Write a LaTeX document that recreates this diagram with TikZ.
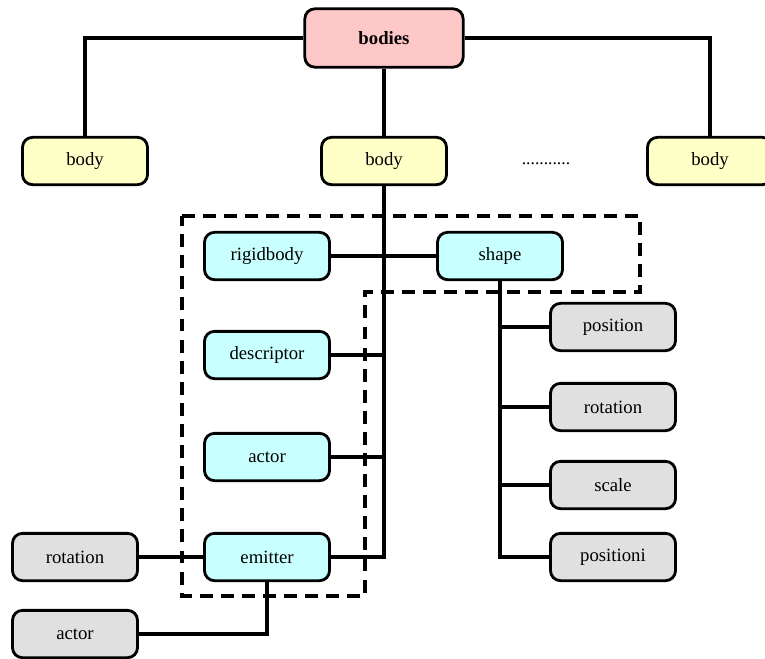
\documentclass[tikz,border=0pt]{standalone}
\usepackage{fontspec}
\setmainfont{Liberation Serif}
\usepackage{tikz}
\usetikzlibrary{positioning, calc}

\definecolor{rootpink}{HTML}{FFC8C8}
\definecolor{bodyyellow}{HTML}{FFFFC8}
\definecolor{partcyan}{HTML}{C8FFFF}
\definecolor{leafgray}{HTML}{E0E0E0}

\tikzset{
    box/.style = {draw, line width=2.4pt, rounded corners=0.3cm, minimum width=3.75cm, minimum height=1.42cm, font=\fontsize{16}{19}\selectfont},
    rootbox/.style = {box, fill=rootpink, minimum width=4.75cm, minimum height=1.75cm, font=\fontsize{16}{19}\selectfont\bfseries},
    bodybox/.style = {box, fill=bodyyellow},
    partbox/.style = {box, fill=partcyan},
    leafbox/.style = {box, fill=leafgray},
    connector/.style = {draw, line width=2.6pt},
    groupline/.style = {draw, line width=2.6pt, dash pattern=on 11pt off 7pt}
}

\begin{document}
\begin{tikzpicture}[x=0.03cm, y=-0.03cm]
    \useasboundingbox (0,0) rectangle (765,658);
    % Group around the parts
    \path[groupline] (182,216) -- (640,216) -- (640,292) -- (365,292) -- (365,596) -- (182,596) -- cycle;
    % Root
    \node[rootbox] (bodies) at (384,38) {bodies};
    % Bodies
    \node[bodybox] (bodyL) at (85,161) {body};
    \node[bodybox] (bodyM) at (384,161) {body};
    \node[bodybox] (bodyR) at (710,161) {body};
    \node[font=\fontsize{15}{18}\selectfont, anchor=base] (dots) at (546,164) {...........};
    % Parts of one body
    \node[partbox] (rigidbody) at (267,256) {rigidbody};
    \node[partbox] (shape) at (500,256) {shape};
    \node[partbox] (descriptor) at (267,355) {descriptor};
    \node[partbox] (actor) at (267,457) {actor};
    \node[partbox] (emitter) at (267,557) {emitter};
    % Shape leaves
    \node[leafbox] (position) at (613,327) {position};
    \node[leafbox] (rotationS) at (613,407) {rotation};
    \node[leafbox] (scale) at (613,485) {scale};
    \node[leafbox] (positioni) at (613,557) {positioni};
    % Emitter leaves
    \node[leafbox] (rotationE) at (75,557) {rotation};
    \node[leafbox] (actorE) at (75,634) {actor};
    % Root links
    \path[connector] (bodies.west) -| (bodyL.north);
    \path[connector] (bodies.east) -| (bodyR.north);
    \path[connector] (bodies.south) -- (bodyM.north);
    % Body links
    \path[connector] (bodyM.south) |- (emitter.east);
    \path[connector] (descriptor.east) -- (descriptor -| bodyM);
    \path[connector] (actor.east) -- (actor -| bodyM);
    \path[connector] (rigidbody) -- (shape);
    % Shape links
    \path[connector] (shape.south) |- (positioni.west);
    \path[connector] (position.west) -- (position -| shape);
    \path[connector] (rotationS.west) -- (rotationS -| shape);
    \path[connector] (scale.west) -- (scale -| shape);
    % Emitter links
    \path[connector] (rotationE) -- (emitter);
    \path[connector] (emitter.south) |- (actorE.east);
\end{tikzpicture}
\end{document}
